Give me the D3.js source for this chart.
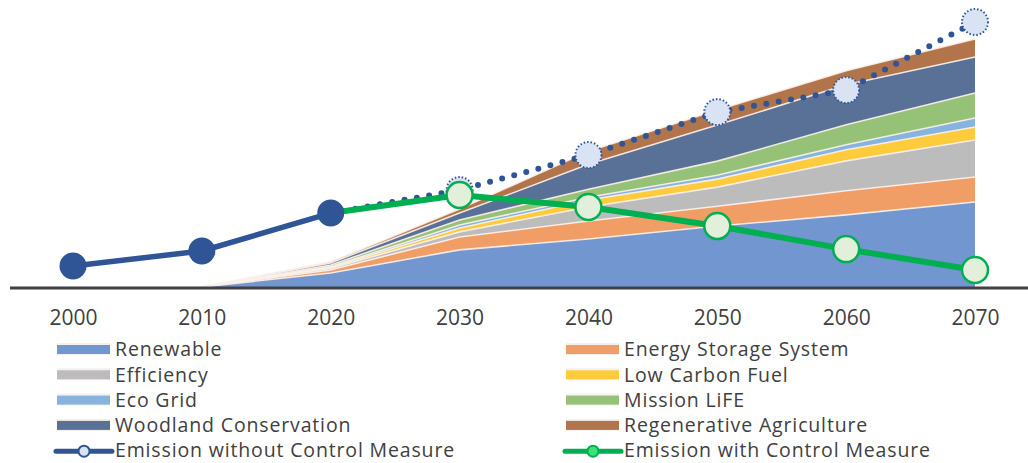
<!DOCTYPE html>
<html>
<head>
<meta charset="utf-8">
<script src="https://cdn.jsdelivr.net/npm/d3@7"></script>
<style>
  html, body { margin: 0; padding: 0; background: #ffffff; }
  svg { display: block; }
  text { font-family: "Open Sans", "Noto Sans", sans-serif; fill: #404040; }
</style>
</head>
<body>
<svg id="chart" width="1028" height="463"></svg>
<script>
// ---- data ----
const years = [2000, 2010, 2020, 2030, 2040, 2050, 2060, 2070];
const tickLabels = ["2000", "2010", "2020", "2030", "2040", "2050", "2060", "2070"];

const areaYears = [2010, 2020, 2030, 2040, 2050, 2060, 2070];
const renewable      = [0, 5.3, 14.0, 18.1, 23.0, 27.2, 32.1];
const energyStorage  = [0, 1.1,  4.9,  6.8,  7.5,  9.1,  9.4];
const efficiency     = [0, 0.6,  1.9,  5.3,  7.2, 11.3, 14.0];
const lowCarbonFuel  = [0, 0.4,  1.5,  2.6,  3.0,  4.2,  4.9];
const ecoGrid        = [0, 0.3,  1.1,  1.1,  1.5,  1.9,  3.4];
const missionLife    = [0, 0.6,  1.9,  3.0,  5.3,  7.5,  9.4];
const woodland       = [0, 0.8,  2.6,  9.4, 13.6, 15.1, 13.6];
const regenerative   = [0, 0.4,  1.5,  4.9,  5.7,  5.3,  6.8];

const emissionWithout = [7.9, 13.6, 27.9, 36.6, 49.8, 66.0, 74.3, 100];
const withYears = [2020, 2030, 2040, 2050, 2060, 2070];
const emissionWith = [27.9, 34.7, 30.2, 23.0, 14.3, 6.4];

const seriesNames = ["Renewable", "Energy Storage System", "Efficiency", "Low Carbon Fuel",
  "Eco Grid", "Mission LiFE", "Woodland Conservation", "Regenerative Agriculture"];
const seriesValues = [renewable, energyStorage, efficiency, lowCarbonFuel, ecoGrid, missionLife, woodland, regenerative];
const seriesColors = ["#7296d0", "#f19d66", "#bcbcbc", "#fecb3d", "#86b3e0", "#95c277", "#5a7197", "#b2744a"];

// ---- layout ----
const svg = d3.select("#chart");
const x = d3.scaleLinear().domain([2000, 2070]).range([73, 975]);
const y = d3.scaleLinear().domain([0, 100]).range([287, 22]);

// stacked areas
const table = areaYears.map((yr, i) => {
  const row = { year: yr };
  seriesNames.forEach((n, k) => row[n] = seriesValues[k][i]);
  return row;
});
const stack = d3.stack().keys(seriesNames)(table);
const area = d3.area()
  .x(d => x(d.data.year))
  .y0(d => y(d[0]))
  .y1(d => y(d[1]));
const topLine = d3.line().x(d => x(d.data.year)).y(d => y(d[1]));

svg.append("g").selectAll("path")
  .data(stack).join("path")
  .attr("d", area)
  .attr("fill", (d, i) => seriesColors[i]);
svg.append("g").selectAll("path")
  .data(stack).join("path")
  .attr("d", topLine)
  .attr("fill", "none")
  .attr("stroke", "#fbf1ea")
  .attr("stroke-opacity", 0.9)
  .attr("stroke-width", 1.6);

// x axis
const axis = d3.axisBottom(x).tickValues(years).tickFormat((d, i) => tickLabels[i]).tickSize(0).tickPadding(23);
const axG = svg.append("g").attr("transform", `translate(0,${y(0)})`).call(axis);
axG.select(".domain").remove();
axG.selectAll("text").style("font-size", "21px").style("font-family", "'Open Sans', sans-serif").attr("fill", "#404040");
svg.append("line").attr("x1", 10).attr("x2", 1028).attr("y1", y(0) + 1).attr("y2", y(0) + 1)
  .attr("stroke", "#404040").attr("stroke-width", 3);

// emission without control: solid 2000-2020, dotted after
const solidPts = years.map((yr, i) => [yr, emissionWithout[i]]).filter(p => p[0] <= 2020);
const dotPts = years.map((yr, i) => [yr, emissionWithout[i]]).filter(p => p[0] >= 2020);
const line = d3.line().x(p => x(p[0])).y(p => y(p[1]));
svg.append("path").attr("d", line(solidPts)).attr("fill", "none")
  .attr("stroke", "#2f5597").attr("stroke-width", 5.5);
svg.append("path").attr("d", line(dotPts)).attr("fill", "none")
  .attr("stroke", "#2f5597").attr("stroke-width", 6)
  .attr("stroke-linecap", "round").attr("stroke-dasharray", "0 12.5");

// emission with control
const withPts = withYears.map((yr, i) => [yr, emissionWith[i]]);
svg.append("path").attr("d", line(withPts)).attr("fill", "none")
  .attr("stroke", "#00b050").attr("stroke-width", 6);

// markers without
years.forEach((yr, i) => {
  const cx = x(yr), cy = y(emissionWithout[i]);
  if (yr <= 2020) {
    svg.append("circle").attr("cx", cx).attr("cy", cy).attr("r", 13.5).attr("fill", "#2f5597");
  } else {
    svg.append("circle").attr("cx", cx).attr("cy", cy).attr("r", 13)
      .attr("fill", "#dae3f3").attr("stroke", "#2f5597").attr("stroke-width", 2)
      .attr("stroke-dasharray", "1.5 2");
  }
});
// markers with
withYears.forEach((yr, i) => {
  if (yr === 2020) return;
  svg.append("circle").attr("cx", x(yr)).attr("cy", y(emissionWith[i])).attr("r", 13)
    .attr("fill", "#e2efda").attr("stroke", "#00b050").attr("stroke-width", 2.5);
});

// legend
const legendItems = [
  { name: "Renewable", type: "area", color: seriesColors[0], col: 0, row: 0 },
  { name: "Energy Storage System", type: "area", color: seriesColors[1], col: 1, row: 0 },
  { name: "Efficiency", type: "area", color: seriesColors[2], col: 0, row: 1 },
  { name: "Low Carbon Fuel", type: "area", color: seriesColors[3], col: 1, row: 1 },
  { name: "Eco Grid", type: "area", color: seriesColors[4], col: 0, row: 2 },
  { name: "Mission LiFE", type: "area", color: seriesColors[5], col: 1, row: 2 },
  { name: "Woodland Conservation", type: "area", color: seriesColors[6], col: 0, row: 3 },
  { name: "Regenerative Agriculture", type: "area", color: seriesColors[7], col: 1, row: 3 },
  { name: "Emission without Control Measure", type: "line", color: "#2f5597", fill: "#dae3f3", col: 0, row: 4 },
  { name: "Emission with Control Measure", type: "line", color: "#00b050", fill: "#3be27a", col: 1, row: 4 }
];
const colX = [57, 566];
const rowY = [350, 375.3, 400.6, 425.9, 451.2];
const lg = svg.append("g");
legendItems.forEach(it => {
  const x0 = colX[it.col], cy = rowY[it.row];
  if (it.type === "area") {
    lg.append("rect").attr("x", x0).attr("y", cy - 7).attr("width", 53).attr("height", 12)
      .attr("fill", "#f4f0ee");
    lg.append("rect").attr("x", x0).attr("y", cy - 5).attr("width", 53).attr("height", 9)
      .attr("fill", it.color);
  } else {
    lg.append("line").attr("x1", x0 - 1).attr("x2", x0 + 55).attr("y1", cy).attr("y2", cy)
      .attr("stroke", it.color).attr("stroke-width", 5).attr("stroke-linecap", "round");
    lg.append("circle").attr("cx", x0 + 27).attr("cy", cy).attr("r", 5.5)
      .attr("fill", it.fill).attr("stroke", it.color).attr("stroke-width", 2);
  }
  lg.append("text").attr("x", x0 + 58).attr("y", cy).attr("dy", "0.32em")
    .style("font-size", "19.5px").style("letter-spacing", "0.85px").text(it.name);
});
</script>
</body>
</html>
